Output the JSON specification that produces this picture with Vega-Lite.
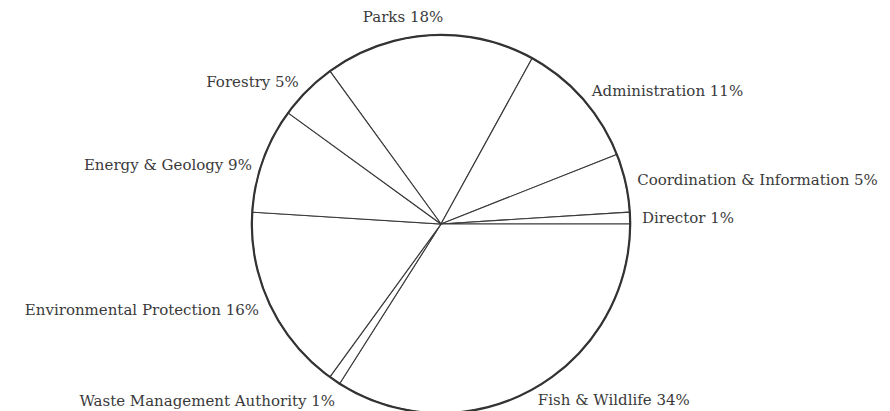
{
  "$schema": "https://vega.github.io/schema/vega-lite/v6.json",
  "width": 882,
  "height": 374,
  "autosize": "none",
  "padding": {"left": 0, "top": 37, "right": 8, "bottom": 0},
  "background": "white",
  "config": {"view": {"stroke": null}},
  "data": {
    "values": [
      {"department": "Parks", "percent": 18},
      {"department": "Administration", "percent": 11},
      {"department": "Coordination & Information", "percent": 5},
      {"department": "Director", "percent": 1},
      {"department": "Fish & Wildlife", "percent": 34},
      {"department": "Waste Management Authority", "percent": 1},
      {"department": "Environmental Protection", "percent": 16},
      {"department": "Energy & Geology", "percent": 9},
      {"department": "Forestry", "percent": 5}
    ]
  },
  "transform": [
    {"calculate": "datum.department + ' ' + datum.percent + '%'", "as": "label"},
    {"window": [{"op": "row_number", "as": "idx"}]}
  ],
  "encoding": {
    "theta": {"field": "percent", "type": "quantitative", "stack": true, "scale": {"range": [-0.6283, 5.6549]}},
    "order": {"field": "idx", "type": "quantitative", "sort": "ascending"}
  },
  "layer": [
    {
      "mark": {"type": "arc", "outerRadius": 189, "fill": "white", "stroke": "#3a3a3a", "strokeWidth": 1.1}
    },
    {
      "transform": [{"aggregate": [{"op": "sum", "field": "percent", "as": "percent"}, {"op": "min", "field": "idx", "as": "idx"}]}],
      "mark": {"type": "arc", "outerRadius": 189, "fill": null, "fillOpacity": 0, "stroke": "#333333", "strokeWidth": 2.2}
    },
    {
      "mark": {"type": "text", "radius": 201, "align": "left", "baseline": "middle", "font": "DejaVu Serif", "fontSize": 15, "color": "#3a3a3a"},
      "encoding": {
        "text": {"condition": {"test": "indexof(['Administration','Coordination & Information','Director','Fish & Wildlife'], datum.department) >= 0", "field": "label"}, "value": ""}
      }
    },
    {
      "mark": {"type": "text", "radius": 201, "align": "right", "baseline": "middle", "font": "DejaVu Serif", "fontSize": 15, "color": "#3a3a3a"},
      "encoding": {
        "text": {"condition": {"test": "indexof(['Forestry','Environmental Protection'], datum.department) >= 0", "field": "label"}, "value": ""}
      }
    },
    {
      "mark": {"type": "text", "radius": 201, "dy": 9, "align": "right", "baseline": "middle", "font": "DejaVu Serif", "fontSize": 15, "color": "#3a3a3a"},
      "encoding": {
        "text": {"condition": {"test": "datum.department == 'Energy & Geology'", "field": "label"}, "value": ""}
      }
    },
    {
      "mark": {"type": "text", "radius": 201, "dx": 7, "dy": 11, "align": "right", "baseline": "middle", "font": "DejaVu Serif", "fontSize": 15, "color": "#3a3a3a"},
      "encoding": {
        "text": {"condition": {"test": "datum.department == 'Waste Management Authority'", "field": "label"}, "value": ""}
      }
    },
    {
      "mark": {"type": "text", "radius": 207, "dx": -25, "align": "center", "baseline": "middle", "font": "DejaVu Serif", "fontSize": 15, "color": "#3a3a3a"},
      "encoding": {
        "text": {"condition": {"test": "datum.department == 'Parks'", "field": "label"}, "value": ""}
      }
    }
  ]
}
